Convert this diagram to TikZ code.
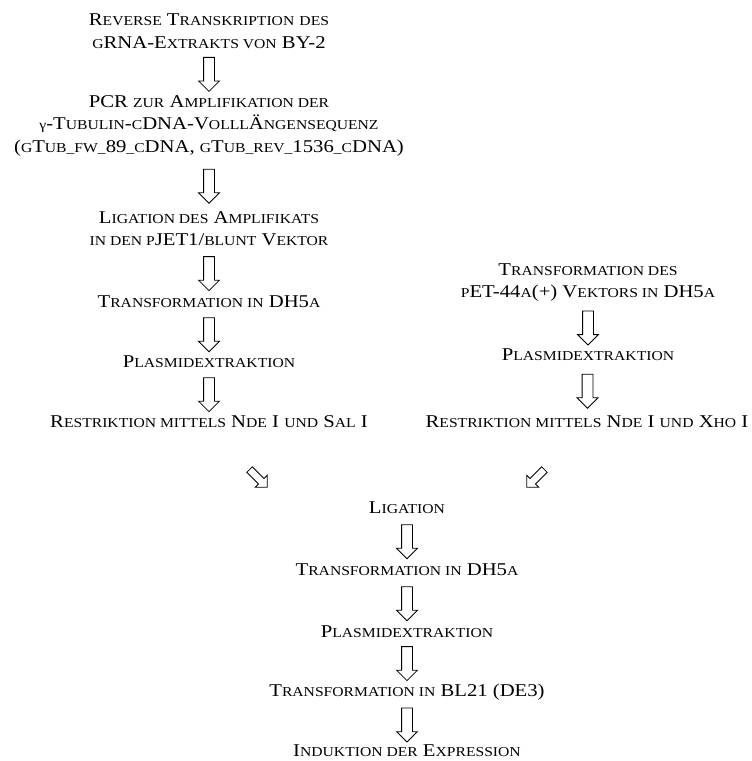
\documentclass[tikz,border=0pt]{standalone}
\usepackage{fontspec}
\setmainfont{Liberation Serif}[FakeStretch=1.15]
\usetikzlibrary{shapes.arrows}
\newcommand\sm[1]{{\fontsize{13.6}{22}\selectfont #1}}
\begin{document}
\begin{tikzpicture}[x=1pt,y=-1pt,
  txt/.style={align=center,inner sep=0pt,font=\fontsize{18}{22.5}\selectfont},
  darr/.style={draw,line width=0.8pt,shape=single arrow,rotate=-90,
    minimum height=34pt,minimum width=20pt,single arrow head extend=5pt,
    single arrow head indent=0pt,inner sep=0pt},
  diag/.style={draw,line width=0.8pt,shape=single arrow,
    minimum height=25pt,minimum width=16pt,single arrow head extend=4.5pt,
    single arrow head indent=0pt,inner sep=0pt}]
\useasboundingbox (0,0) rectangle (752,761);
% left column
\node[txt] (L1) at (209,31) {R\sm{EVERSE} T\sm{RANSKRIPTION} \sm{DES}\\ \sm{G}RNA-E\sm{XTRAKTS VON} BY-2};
\node[txt] (L2) at (209,125.5) {PCR \sm{ZUR} A\sm{MPLIFIKATION DER}\\ \sm{γ}-T\sm{UBULIN}-\sm{C}DNA-V\sm{OLLL}Ä\sm{NGENSEQUENZ}\\ (\sm{G}T\sm{UB\_FW\_}89\sm{\_C}DNA, \sm{G}T\sm{UB\_REV\_}1536\sm{\_C}DNA)};
\node[txt] (L3) at (209,228.5) {L\sm{IGATION DES} A\sm{MPLIFIKATS}\\ \sm{IN DEN P}JET1/\sm{BLUNT} V\sm{EKTOR}};
\node[txt] (L4) at (209,302) {T\sm{RANSFORMATION IN} DH5\sm{A}};
\node[txt] (L5) at (209,362) {P\sm{LASMIDEXTRAKTION}};
\node[txt] (L6) at (209,422) {R\sm{ESTRIKTION MITTELS} N\sm{DE} I \sm{UND} S\sm{AL} I};
% right column
\node[txt] (R1) at (588,282.5) {T\sm{RANSFORMATION DES}\\ \sm{P}ET-44\sm{A}(+) V\sm{EKTORS IN} DH5\sm{A}};
\node[txt] (R2) at (588,355) {P\sm{LASMIDEXTRAKTION}};
\node[txt] (R3) at (587,422) {R\sm{ESTRIKTION MITTELS} N\sm{DE} I \sm{UND} X\sm{HO} I};
% bottom column
\node[txt] (B1) at (407,508) {L\sm{IGATION}};
\node[txt] (B2) at (407,570) {T\sm{RANSFORMATION IN} DH5\sm{A}};
\node[txt] (B3) at (407,632) {P\sm{LASMIDEXTRAKTION}};
\node[txt] (B4) at (407,692) {T\sm{RANSFORMATION IN} BL21 (DE3)};
\node[txt] (B5) at (407,750.5) {I\sm{NDUKTION DER} E\sm{XPRESSION}};
% vertical arrows
\path (L1) -- node[darr]{\rule{0pt}{10pt}} (L2);
\path (L2) -- node[darr]{\rule{0pt}{10pt}} (L3);
\path (L3) -- node[darr]{\rule{0pt}{10pt}} (L4);
\path (L4) -- node[darr]{\rule{0pt}{10pt}} (L5);
\path (L5) -- node[darr]{\rule{0pt}{10pt}} (L6);
\path (R1) -- node[darr]{\rule{0pt}{10pt}} (R2);
\path (R2) -- node[darr]{\rule{0pt}{10pt}} (R3);
\path (B1) -- node[darr]{\rule{0pt}{10pt}} (B2);
\path (B2) -- node[darr]{\rule{0pt}{10pt}} (B3);
\path (B3) -- node[darr]{\rule{0pt}{10pt}} (B4);
\path (B4) -- node[darr]{\rule{0pt}{10pt}} (B5);
% diagonal arrows
\node[diag,rotate=-45] (D1) at (257,477) {\rule{0pt}{7pt}};
\node[diag,rotate=-135] (D2) at (537,477) {\rule{0pt}{7pt}};
\end{tikzpicture}
\end{document}
